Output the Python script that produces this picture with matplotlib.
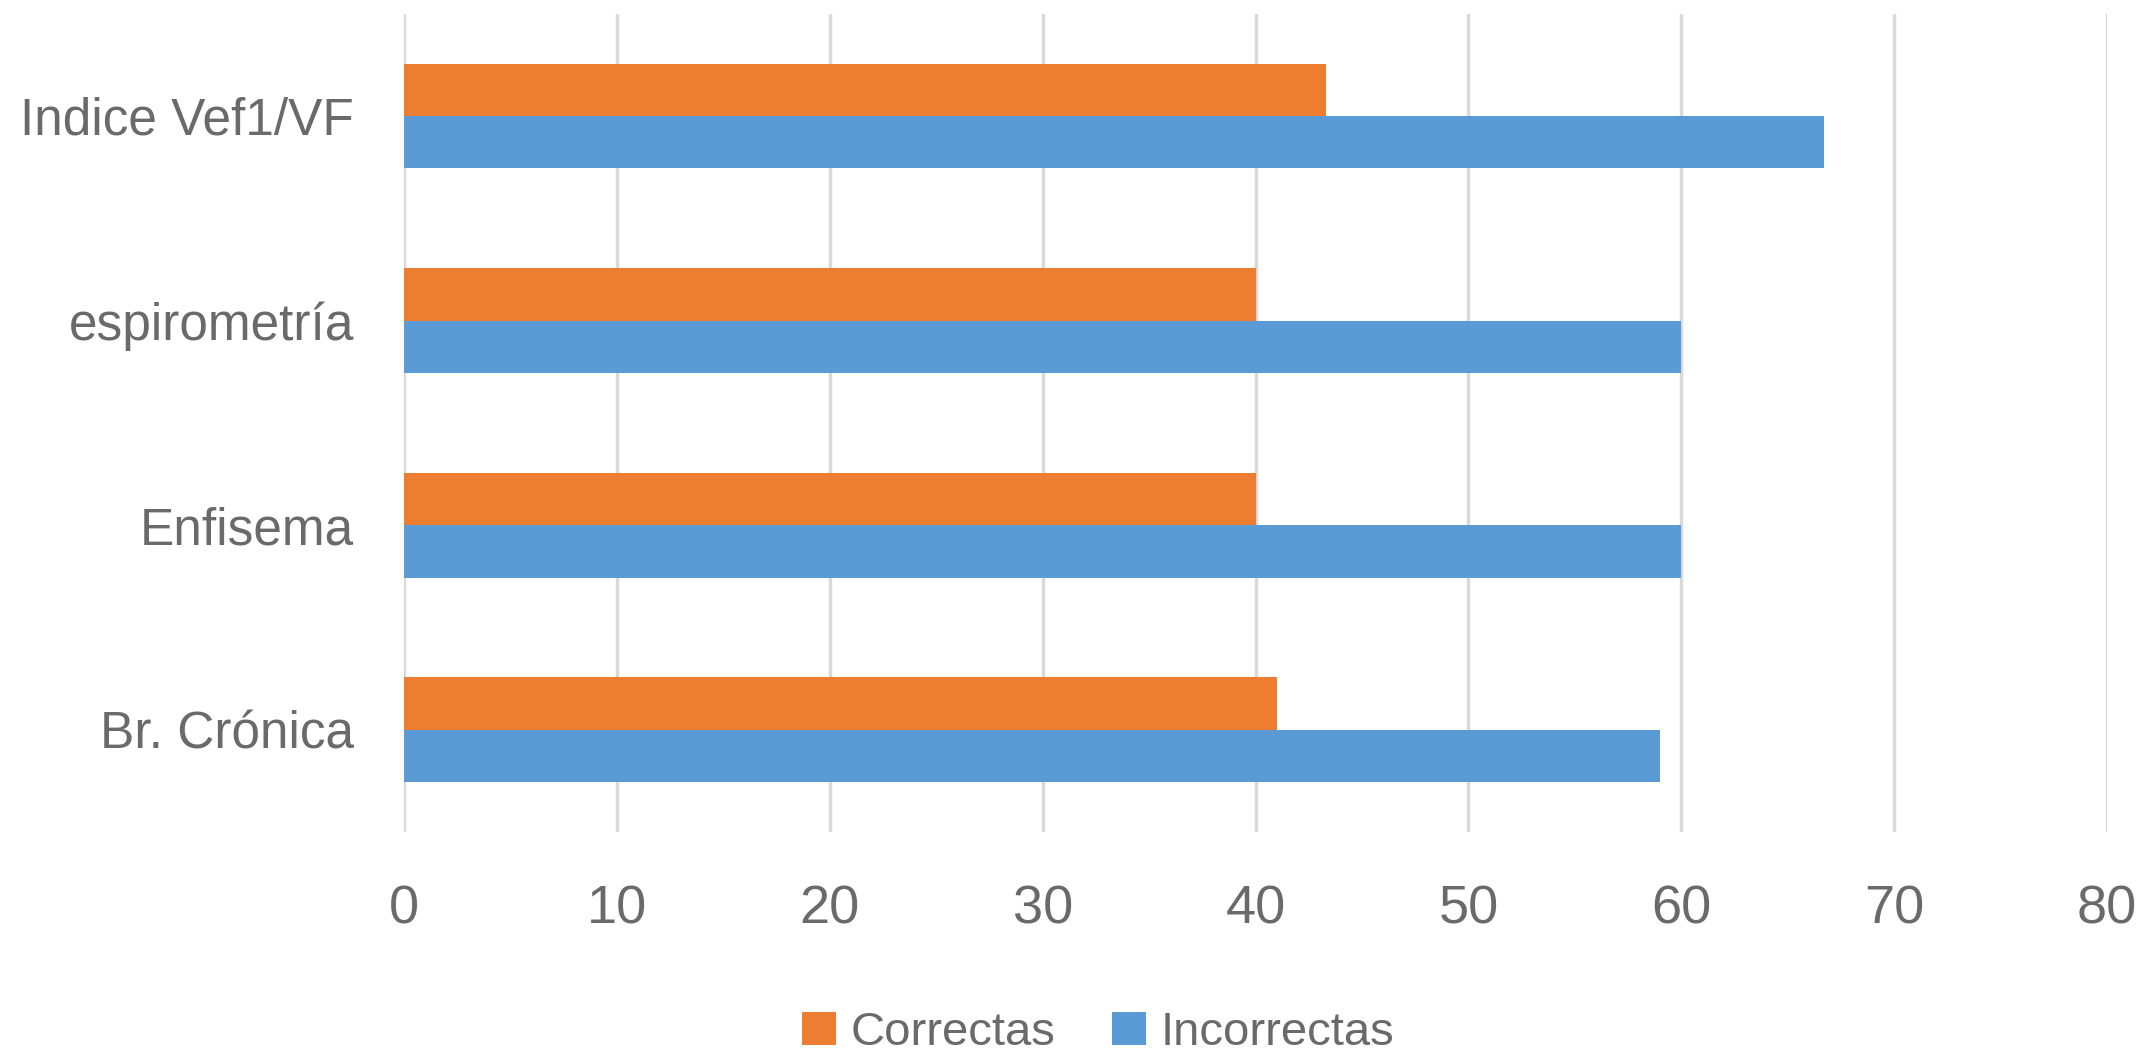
import matplotlib
matplotlib.use("Agg")
import matplotlib.pyplot as plt
import numpy as np

# Chart data
categories = ["Br. Crónica", "Enfisema", "espirometría", "Indice Vef1/VF"]
correctas = [41, 40, 40, 43.3]
incorrectas = [59, 60, 60, 66.7]
series_names = ["Correctas", "Incorrectas"]
x_ticks = [0, 10, 20, 30, 40, 50, 60, 70, 80]

ORANGE = "#ED7D31"
BLUE = "#5B9BD5"
TEXT = "#6A6A6A"
GRID = "#D9D9D9"

plt.rcParams["font.family"] = ["Liberation Sans", "DejaVu Sans"]

fig = plt.figure(figsize=(21.49, 10.52), dpi=100)
ax = fig.add_axes([0.188, 0.209, 0.7925, 0.778])

y = np.arange(len(categories))
h = 0.256
ax.barh(y + h / 2, correctas, height=h, color=ORANGE, label=series_names[0], zorder=3)
ax.barh(y - h / 2, incorrectas, height=h, color=BLUE, label=series_names[1], zorder=3)

ax.set_xlim(0, 80)
ax.set_ylim(-0.5, len(categories) - 0.5)
ax.set_xticks(x_ticks)
ax.set_xticklabels([str(t) for t in x_ticks])
ax.set_yticks(y)
ax.set_yticklabels(categories)

ax.grid(axis="x", color=GRID, linewidth=2.5, zorder=0)
ax.grid(axis="y", visible=False)
for s in ax.spines.values():
    s.set_visible(False)

ax.tick_params(axis="x", length=0, pad=38, labelsize=39, labelcolor=TEXT)
ax.tick_params(axis="y", length=0, pad=36, labelsize=37, labelcolor=TEXT)

fig.legend(
    loc="center",
    bbox_to_anchor=(0.511, 0.018),
    ncol=2,
    frameon=False,
    fontsize=34,
    labelcolor=TEXT,
    handlelength=0.72,
    handleheight=0.72,
    handletextpad=0.3,
    columnspacing=1.2,
)

fig.savefig("out.png", dpi=100, facecolor="white")
